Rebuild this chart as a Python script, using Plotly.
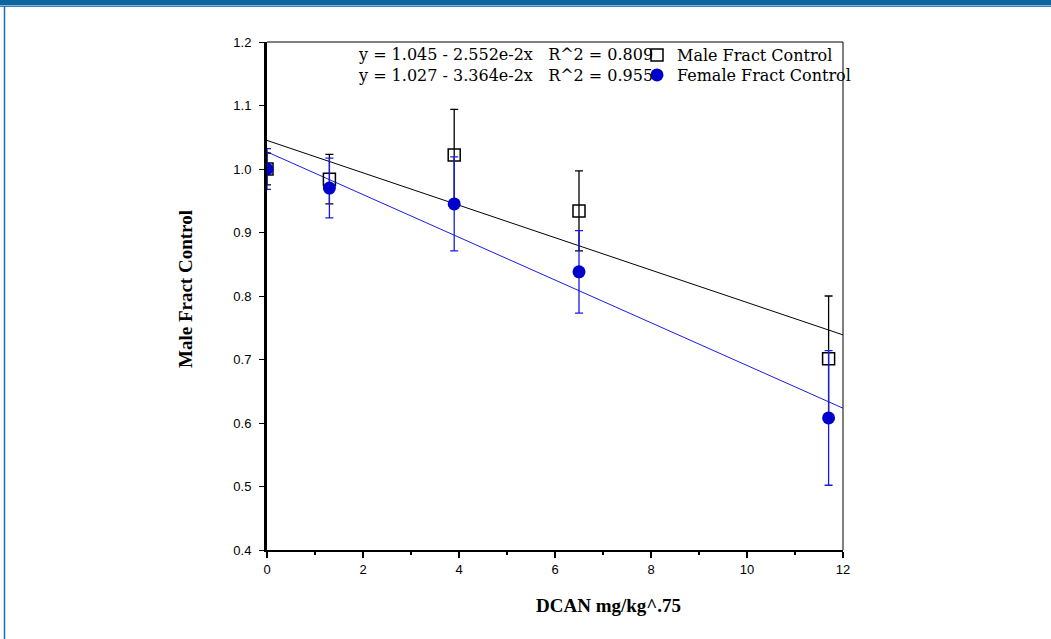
import plotly.graph_objects as go

# ---- data ----
dose = [0, 1.3, 3.9, 6.5, 11.7]
male_frac = [1.0, 0.984, 1.022, 0.934, 0.701]
male_err = [0.025, 0.039, 0.072, 0.063, 0.099]
female_frac = [1.0, 0.97, 0.945, 0.838, 0.608]
female_err = [0.032, 0.047, 0.074, 0.065, 0.106]

fit_x = [0, 12]
male_intercept, male_slope, male_r2 = 1.045, -2.552e-2, 0.809
female_intercept, female_slope, female_r2 = 1.027, -3.364e-2, 0.955

x_ticks = [0, 2, 4, 6, 8, 10, 12]
y_ticks = [0.4, 0.5, 0.6, 0.7, 0.8, 0.9, 1.0, 1.1, 1.2]

W, H = 1051, 639
L, R, T, B = 267, 843, 42, 550


def px(xp):
    return (xp - L) / (R - L)


def py(yp):
    return (B - yp) / (B - T)


BLUE = "#0000cc"
BLUE_LINE = "#1a1ae6"

fig = go.Figure()

# regression lines
fig.add_trace(go.Scatter(
    x=fit_x, y=[male_intercept + male_slope * v for v in fit_x],
    mode="lines", line=dict(color="black", width=1), showlegend=False, hoverinfo="skip"))
fig.add_trace(go.Scatter(
    x=fit_x, y=[female_intercept + female_slope * v for v in fit_x],
    mode="lines", line=dict(color=BLUE_LINE, width=1), showlegend=False, hoverinfo="skip"))

fig.add_trace(go.Scatter(
    x=dose, y=male_frac, mode="markers", name="Male Fract Control", legend="legend",
    marker=dict(symbol="square-open", size=12, color="black", line=dict(width=1.5, color="black")),
    error_y=dict(type="data", array=male_err, color="black", thickness=1.3, width=4),
))
fig.add_trace(go.Scatter(
    x=dose, y=female_frac, mode="markers", name="Female Fract Control", legend="legend2",
    marker=dict(symbol="circle", size=13, color=BLUE, line=dict(width=0)),
    error_y=dict(type="data", array=female_err, color=BLUE_LINE, thickness=1.3, width=4),
))

eq_font = dict(family="DejaVu Serif", size=16, color="black")
annotations = [
    dict(text=f"y = {male_intercept:.3f} - {abs(male_slope)*100:.3f}e-2x   R^2 = {male_r2:.3f}",
         x=px(356), y=py(55), xref="paper", yref="paper", xanchor="left", yanchor="middle",
         showarrow=False, font=eq_font),
    dict(text=f"y = {female_intercept:.3f} - {abs(female_slope)*100:.3f}e-2x   R^2 = {female_r2:.3f}",
         x=px(356), y=py(75), xref="paper", yref="paper", xanchor="left", yanchor="middle",
         showarrow=False, font=eq_font),
    dict(text="<b>Male Fract Control</b>", x=px(185), y=py(289), xref="paper", yref="paper",
         textangle=-90, xanchor="center", yanchor="middle", showarrow=False,
         font=dict(family="Liberation Serif", size=19, color="black")),
    dict(text="<b>DCAN mg/kg^.75</b>", x=px(608), y=py(605), xref="paper", yref="paper",
         xanchor="center", yanchor="middle", showarrow=False,
         font=dict(family="Liberation Serif", size=19, color="black")),
]

shapes = [
    # plot box top and right
    dict(type="line", xref="paper", yref="paper", x0=0, x1=1, y0=1, y1=1, line=dict(color="black", width=1)),
    dict(type="line", xref="paper", yref="paper", x0=1, x1=1, y0=0, y1=1, line=dict(color="black", width=1)),
    # page decoration: top band and left rule
    dict(type="rect", xref="paper", yref="paper", x0=px(0), x1=px(W), y0=py(0), y1=py(5.5),
         fillcolor="#0b66a0", line=dict(width=0), layer="below"),
    dict(type="line", xref="paper", yref="paper", x0=px(0), x1=px(W), y0=py(6.5), y1=py(6.5),
         line=dict(color="#3a86ba", width=1), layer="below"),
    dict(type="line", xref="paper", yref="paper", x0=px(4.5), x1=px(4.5), y0=py(6), y1=py(H),
         line=dict(color="#1d6fae", width=1.5), layer="below"),
]

tick_font = dict(family="Liberation Sans", size=13, color="black")
legend_font = dict(family="DejaVu Serif", size=16, color="black")

fig.update_layout(
    width=W, height=H,
    margin=dict(l=L, r=W - R, t=T, b=H - B, pad=0),
    paper_bgcolor="white", plot_bgcolor="white",
    showlegend=True,
    legend=dict(x=px(637), y=py(38), xanchor="left", yanchor="top",
                bgcolor="rgba(0,0,0,0)", borderwidth=0, font=legend_font),
    legend2=dict(x=px(637), y=py(58), xanchor="left", yanchor="top",
                 bgcolor="rgba(0,0,0,0)", borderwidth=0, font=legend_font),
    annotations=annotations,
    shapes=shapes,
    xaxis=dict(range=[0, 12], tickvals=x_ticks, ticktext=[str(v) for v in x_ticks],
               showgrid=False, zeroline=False, showline=True, linecolor="black", linewidth=2,
               ticks="outside", ticklen=6, tickwidth=2, tickcolor="black", tickfont=tick_font,
               minor=dict(dtick=1, ticks="outside", ticklen=3, tickwidth=1.5, tickcolor="black"),
               fixedrange=True),
    yaxis=dict(range=[0.4, 1.2], tickvals=y_ticks, ticktext=[f"{v:.1f}" for v in y_ticks],
               showgrid=False, zeroline=False, showline=True, linecolor="black", linewidth=3,
               ticks="outside", ticklen=5, tickwidth=1, tickcolor="black", tickfont=tick_font,
               ticklabelstandoff=5, fixedrange=True),
)

fig.write_html("out.html")
